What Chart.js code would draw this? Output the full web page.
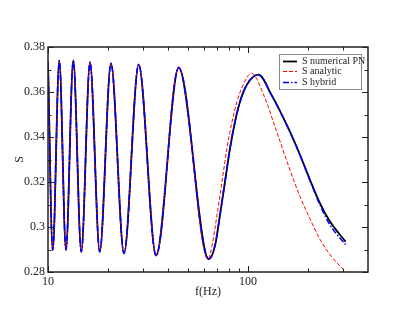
<!DOCTYPE html>
<html>
<head>
<meta charset="utf-8">
<script src="https://cdn.jsdelivr.net/npm/chart.js@4"></script>
<style>
  body { margin: 0; background: #fff; }
</style>
</head>
<body>
<canvas id="sChart" width="415" height="321"></canvas>
<script>
// data
const freqNum = [10, 10.56, 11.39, 12.3, 13.38, 14.67, 16.22, 18.14, 20.65, 23.99, 28.4, 34.7, 45.0, 63.6, 68.4, 72.4, 76.7, 81.3, 86.1, 91.2, 98.5, 112.6, 131.4, 159.0, 182.0, 204.2, 229.1, 257.0, 307.4];
const sNumerical = [0.373, 0.2898, 0.3739, 0.29, 0.374, 0.289, 0.3732, 0.289, 0.3727, 0.2883, 0.3722, 0.2873, 0.3708, 0.2857, 0.2918, 0.3053, 0.3201, 0.335, 0.3468, 0.3557, 0.3631, 0.3677, 0.3585, 0.3439, 0.332, 0.3209, 0.3105, 0.3024, 0.2935];
const sHybrid = [0.373, 0.2898, 0.3739, 0.29, 0.374, 0.289, 0.3732, 0.289, 0.3727, 0.2883, 0.3722, 0.2873, 0.3708, 0.2857, 0.2918, 0.3053, 0.3201, 0.335, 0.3468, 0.3557, 0.3631, 0.3677, 0.3585, 0.3439, 0.332, 0.3207, 0.3098, 0.3009, 0.2922];
const freqAna = [10, 10.56, 11.39, 12.3, 13.38, 14.67, 16.22, 18.14, 20.65, 23.99, 28.4, 34.7, 45.0, 63.0, 66.1, 70.0, 74.1, 78.5, 83.2, 88.1, 94.4, 104.1, 121.6, 136.5, 162.2, 182.0, 204.2, 229.1, 262.1, 305.5];
const sAnalytic = [0.374, 0.2895, 0.3742, 0.2895, 0.3742, 0.2888, 0.3735, 0.2888, 0.373, 0.2882, 0.3724, 0.2872, 0.3712, 0.2857, 0.2918, 0.3053, 0.3201, 0.335, 0.3468, 0.3557, 0.3631, 0.3683, 0.3572, 0.3445, 0.3253, 0.3135, 0.3036, 0.2945, 0.2867, 0.2804];
const xMajor = [10, 100];
const xMinor = [20, 30, 40, 50, 60, 70, 80, 90, 200, 300];
const yTicks = [0.28, 0.3, 0.32, 0.34, 0.36, 0.38];
const yMinor = [0.29, 0.31, 0.33, 0.35, 0.37];

const serif = "'Liberation Serif', 'DejaVu Serif', serif";

function pts(xs, ys) {
  return xs.map((x, i) => ({ x: x, y: ys[i] }));
}

// order: lower number is drawn on top
const series = [
  { label: "S numerical PN", data: pts(freqNum, sNumerical), color: "#000000", width: 1.8, dash: [], order: 3 },
  { label: "S analytic", data: pts(freqAna, sAnalytic), color: "#ff0000", width: 1, dash: [4, 2], order: 2 },
  { label: "S hybrid", data: pts(freqNum, sHybrid), color: "#0000ff", width: 1.6, dash: [6, 2, 1.5, 2], order: 1 },
];

// frame, inward ticks, axis titles and legend
const decorPlugin = {
  id: "decor",
  afterDatasetsDraw(chart) {
    const c = chart.ctx;
    const a = chart.chartArea;
    const xs = chart.scales.x;
    const ys = chart.scales.y;
    c.save();
    c.strokeStyle = "#222";
    c.lineWidth = 1;
    c.setLineDash([]);
    c.beginPath();
    xMajor.concat(xMinor).forEach((v) => {
      const len = xMajor.includes(v) ? 6 : 3.5;
      const px = Math.round(xs.getPixelForValue(v)) + 0.5;
      c.moveTo(px, a.bottom); c.lineTo(px, a.bottom - len);
      c.moveTo(px, a.top); c.lineTo(px, a.top + len);
    });
    yTicks.concat(yMinor).forEach((v) => {
      const len = yTicks.includes(v) ? 6 : 3.5;
      const py = Math.round(ys.getPixelForValue(v)) + 0.5;
      c.moveTo(a.left, py); c.lineTo(a.left + len, py);
      c.moveTo(a.right, py); c.lineTo(a.right - len, py);
    });
    c.stroke();
    c.lineWidth = 1.5;
    c.strokeRect(a.left, a.top, a.right - a.left, a.bottom - a.top);

    // axis titles
    c.fillStyle = "#222";
    c.font = "12px " + serif;
    c.textAlign = "center";
    c.textBaseline = "middle";
    c.fillText("f(Hz)", (a.left + a.right) / 2, 292);
    c.save();
    c.translate(20, (a.top + a.bottom) / 2);
    c.rotate(-Math.PI / 2);
    c.fillText("S", 0, 0);
    c.restore();

    // legend
    const lx = 279, ly = 54, lw = 82, lh = 35;
    c.fillStyle = "#fff";
    c.fillRect(lx, ly, lw, lh);
    c.strokeStyle = "#888";
    c.lineWidth = 1;
    c.strokeRect(lx + 0.5, ly + 0.5, lw, lh);
    c.font = "10px " + serif;
    c.textAlign = "left";
    [61, 71, 82].forEach((ry, i) => {
      const s = series[i];
      c.strokeStyle = s.color;
      c.lineWidth = s.width;
      c.setLineDash(s.dash);
      c.beginPath();
      c.moveTo(283, ry + 0.5);
      c.lineTo(297, ry + 0.5);
      c.stroke();
      c.setLineDash([]);
      c.fillStyle = "#222";
      c.fillText(s.label, 302, ry);
    });
    c.restore();
  },
};

const chart = new Chart(document.getElementById("sChart"), {
  type: "line",
  data: {
    datasets: series.map((s) => ({
      label: s.label,
      data: s.data,
      order: s.order,
      borderColor: s.color,
      borderWidth: s.width,
      borderDash: s.dash,
      pointRadius: 0,
      fill: false,
      cubicInterpolationMode: "monotone",
    })),
  },
  options: {
    responsive: false,
    animation: false,
    layout: { padding: { top: 47, right: 47, left: 0, bottom: 0 } },
    plugins: { legend: { display: false }, tooltip: { enabled: false } },
    scales: {
      x: {
        type: "logarithmic",
        min: 10,
        max: 398,
        grid: { display: false, drawTicks: false },
        border: { display: false },
        afterBuildTicks: (s) => {
          s.ticks = xMajor.concat(xMinor).sort((p, q) => p - q).map((v) => ({ value: v }));
        },
        afterFit: (s) => { s.height = 49; },
        ticks: {
          autoSkip: false,
          maxRotation: 0,
          padding: 3,
          color: "#222",
          font: { family: serif, size: 12 },
          callback: (v) => (xMajor.includes(v) ? String(v) : ""),
        },
      },
      y: {
        min: 0.28,
        max: 0.38,
        grid: { display: false, drawTicks: false },
        border: { display: false },
        afterBuildTicks: (s) => {
          s.ticks = yTicks.map((v) => ({ value: v }));
        },
        afterFit: (s) => { s.width = 48; },
        ticks: {
          padding: 3,
          color: "#222",
          font: { family: serif, size: 12 },
          callback: (v) => String(Number(v.toFixed(2))),
        },
      },
    },
  },
  plugins: [decorPlugin],
});
</script>
</body>
</html>
